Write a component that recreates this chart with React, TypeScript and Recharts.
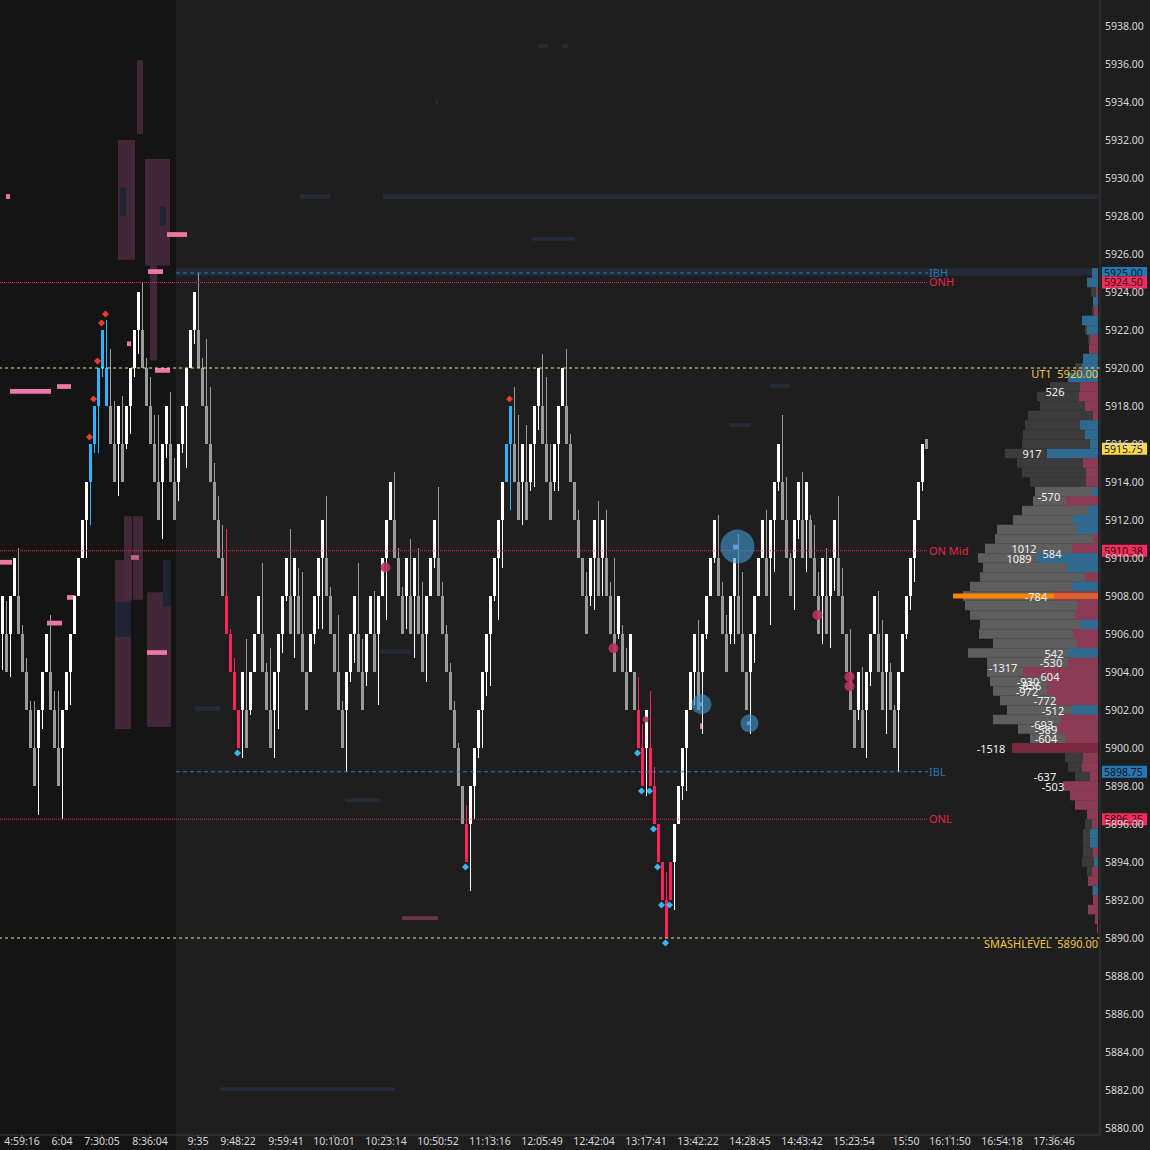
import React from 'react';
import { ComposedChart, Bar, Scatter, XAxis, YAxis, ReferenceLine, ReferenceArea, ReferenceDot } from 'recharts';

const FONT = "'Noto Sans', 'Open Sans', 'DejaVu Sans', sans-serif";
const BRICK = 2;
const SLOTS = 275;
const Y_MIN = 5879.632;
const Y_MAX = 5939.368;

// renko brick lows (2-pt bricks), colour codes and wick extremes
const brickLow = [
  5906,5904,5906,5908,5906,5904,5902,5900,5898,5900,
  5902,5904,5902,5900,5898,5900,5902,5904,5906,5908,
  5910,5912,5914,5916,5918,5920,5918,5916,5914,5916,
  5914,5916,5918,5920,5922,5920,5918,5916,5914,5912,
  5914,5916,5914,5912,5914,5916,5918,5920,5922,5920,
  5918,5916,5914,5912,5910,5908,5906,5904,5902,5900,
  5902,5900,5902,5904,5906,5904,5902,5900,5902,5904,
  5906,5908,5906,5908,5906,5904,5902,5904,5906,5908,
  5910,5908,5906,5904,5902,5900,5902,5904,5906,5904,
  5902,5904,5906,5904,5906,5908,5910,5912,5910,5908,
  5906,5908,5906,5908,5906,5904,5906,5908,5910,5908,
  5906,5904,5902,5900,5898,5896,5894,5896,5898,5900,
  5902,5904,5906,5908,5910,5912,5914,5916,5914,5912,
  5914,5912,5914,5916,5918,5916,5914,5912,5914,5916,
  5918,5916,5914,5912,5910,5908,5906,5908,5910,5908,
  5910,5908,5906,5904,5906,5904,5902,5904,5902,5900,
  5898,5900,5898,5896,5894,5892,5890,5892,5894,5896,
  5898,5900,5902,5904,5902,5904,5906,5908,5910,5908,
  5906,5904,5906,5908,5906,5904,5902,5904,5906,5908,
  5910,5908,5910,5912,5914,5912,5910,5908,5910,5912,
  5910,5912,5910,5908,5906,5908,5906,5908,5910,5908,
  5906,5904,5902,5900,5902,5900,5902,5904,5906,5904,
  5902,5904,5902,5900,5902,5904,5906,5908,5910,5912,5914,
];
const brickColor =
  'wgwwgggggw' + 'wwgggwwwww' + 'wwbbbbbggw' + 'gwwwwggggg' + 'wwggwwwwwg' +
  'ggggggrrrr' + 'wgwwwgggww' + 'wwgwgggwww' + 'wgggggwwwg' + 'gwwgwwwwgg' +
  'gwgwggwwwg' + 'ggggggrwww' + 'wwwwwwbbgg' + 'wgwwwgggww' + 'wggggggwwg' +
  'wgggwggwgr' + 'rwrrrrrrww' + 'wwwwgwwwwg' + 'ggwwgggwww' + 'wgwwwgggww' +
  'gwgggwgwwg' + 'ggggwgwwwg' + 'gwggwwwwwww';
const brickWick = [
  5904.1,5907.75,5903.75,null,5910.5,5906.5,5904.75,5902.5,5902.5,5896.5,
  5901,null,5907,5903,5903,5896.25,null,5902.25,null,5909.25,
  null,5910,5911.75,5915.5,5915.5,5919.5,5922.5,5921,5918.25,5913.25,
  5918.5,5915.75,5916.5,5919.5,5920.75,5924.5,5920.5,5919.5,5917.5,5917.5,
  5911,5915.25,5918.75,5915.25,5913,5915.5,5914.75,null,5921.25,5925,
  5920.5,5921.5,5919,5915,5913.25,5911.75,5911.5,5906.25,5904.75,null,
  5899.5,5905.75,5901.75,null,null,5909.75,5904.5,5905.25,5899.5,5901,
  5905,5907.75,5911.5,5904.75,5909.5,5909.25,null,null,5905.5,5906.25,
  5906.25,5913.25,5908.5,null,5907,5902.5,5898.75,5903.5,5904.5,5909.75,
  5905.75,5903.25,null,5908.25,5902.25,null,5906.75,null,5914.5,5910.5,
  5908.5,5906.25,5911,5904.75,5910.5,5908.75,5903.5,null,5909.5,5913.75,
  5908.75,5906.5,5904.5,5902.5,5900.25,null,5897,5892.5,5896.25,5899.5,
  5900,5902.75,5903.25,5907.75,5906.75,5909.5,null,5912.5,5919,5917.5,
  5911.75,5917,5913.5,5913.75,5916.75,5920.75,5919.5,5916,5913.5,5913.5,
  null,5921,5916.5,null,5912.5,null,5909.25,5907.5,5907.25,5913,
  5908,5912.5,5908.75,5910,5905.75,5906.5,5905.25,null,null,5903.75,
  5901.25,5897.5,5903,5899,null,null,5893.5,null,5891.5,5896,
  5897.25,5897.75,5902,5902.25,5906.75,5900.75,5905.75,null,5909.75,5912.25,
  5908.75,5907,5905.5,5905.5,5911.25,5909.25,null,5900.75,5904.5,null,
  null,5912.5,5906.5,5909.25,5913.5,5917.5,5914.25,5910.25,5907.25,5911,
  5914.5,5909.25,5912.25,5911.75,5909.25,5905.5,5910.5,5905.25,5908.25,5913.25,
  5909.5,null,5906.25,null,5901.5,5904.25,5899.5,5903.25,null,5908.25,
  5906.75,5900.75,5904.5,5902.25,5898.75,null,5905.75,5907.25,5908.75,5912,5913.5,
];
const formingLow = 5915.75;
const formingHigh = 5916.25;

const redMarkCols = [22, 23, 24, 25, 26, 127];
const redMarkPrices = [5916.37, 5918.37, 5920.37, 5922.37, 5922.84, 5918.37];
const blueMarkCols = [59, 116, 159, 160, 162, 163, 164, 165, 166, 167];
const blueMarkPrices = [5899.74, 5893.74, 5899.74, 5897.74, 5897.74, 5895.74, 5893.74, 5891.74, 5889.74, 5891.74];
const bubbleCols = [175, 184, 187];
const bubblePrices = [5902.3, 5910.6, 5901.3];
const bubbleSizes = [10, 17, 9];
const pinkCols = [96, 153, 161, 204, 212];
const pinkPrices = [5909.5, 5905.25, 5901.5, 5907.0, 5903.75];
const pinkSizes = [5, 5, 3, 5, 5];
const pink2Cols = [212];
const pink2Prices = [5903.25];

const timeTickCols = [5,15,25,37,49,59,71,83,96,109,122,135,148,161,174,187,200,213,226,237,250,263];
const timeTickLabels = ['4:59:16','6:04','7:30:05','8:36:04','9:35','9:48:22','9:59:41','10:10:01','10:23:14','10:50:52','11:13:16','12:05:49','12:42:04','13:17:41','13:42:22','14:28:45','14:43:42','15:23:54','15:50','16:11:50','16:54:18','17:36:46'];
const yTicks = [5880,5882,5884,5886,5888,5890,5892,5894,5896,5898,5900,5902,5904,5906,5908,5910,5912,5914,5916,5918,5920,5922,5924,5926,5928,5930,5932,5934,5936,5938];

// volume profile (0.5pt rows)
const profilePrices = [
  5925,5924.5,5924,5923.5,5923,5922.5,5922,5921.5,5921,5920.5,
  5920,5919.5,5919,5918.5,5918,5917.5,5917,5916.5,5916,5915.5,
  5915,5914.5,5914,5913.5,5913,5912.5,5912,5911.5,5911,5910.5,
  5910,5909.5,5909,5908.5,5908,5907.5,5907,5906.5,5906,5905.5,
  5905,5904.5,5904,5903.5,5903,5902.5,5902,5901.5,5901,5900.5,
  5900,5899.5,5899,5898.5,5898,5897.5,5897,5896.5,5896,5895.5,
  5895,5894.5,5894,5893.5,5893,5892.5,5892,5891.5,5891,5890.5,
];
const profileVolume = [
  6,11,7,5,6,16,13,10,9,15,
  23,30,48,61,58,70,73,75,76,93,
  81,76,68,63,65,76,85,101,103,113,
  120,115,118,128,135,133,128,118,119,105,
  130,111,111,108,105,98,91,105,80,68,
  86,33,30,23,35,26,11,11,13,15,
  15,15,16,11,10,6,5,10,3,1,
];
const profileDelta = [
  6,11,-2,5,-4,16,11,-8,-9,15,
  16,30,-18,-19,-13,-5,18,13,8,51,
  -15,-12,-12,6,-32,10,25,20,-5,-26,
  61,31,-13,26,-44,-21,-23,18,-25,-21,
  30,-30,-75,-51,-51,-43,26,-38,-40,-33,
  -86,-15,-16,-8,-35,-28,-23,-11,-6,8,
  8,-5,4,-6,-10,5,-5,-10,-3,-1,
];
const vaHigh = 5913.75;
const vaLow = 5900.25;
const pocPrice = 5908;
const pocVolume = 145;
const pocSellPart = 44;

const profileLabelText = ['526','917','-570','1012','1089','584','-784','542','-530','-1317','604','-930','-856','-972','-772','-512','-693','-589','-604','-1518','-637','-503'];
const profileLabelPrice = [5918.74,5915.47,5913.21,5910.47,5909.95,5910.21,5907.95,5904.95,5904.47,5904.21,5903.74,5903.47,5903.26,5902.95,5902.47,5901.95,5901.21,5900.95,5900.47,5899.95,5898.47,5897.95];
const profileLabelVol = [43,66,49,74,79,46,62,44,47,95,48,70,68,71,53,45,56,52,52,107,53,45];

// depth heatmap remnants: [col from, col to, price top, price bottom]
const heatPurple = [
  [34.25, 35.75, 5936.2, 5932.3],
  [29.5, 33.75, 5932.0, 5925.7],
  [36.25, 42.5, 5931.0, 5925.4],
  [37.5, 39.25, 5925.4, 5920.4],
  [28.75, 32.75, 5909.9, 5901.0],
  [31.0, 33.0, 5912.2, 5907.8],
  [33.25, 35.75, 5912.2, 5907.8],
  [36.75, 42.75, 5908.2, 5901.1],
];
const heatNavyCells = [
  [28.75, 32.75, 5907.7, 5905.85],
  [40.75, 42.75, 5909.9, 5907.45],
  [30.0, 31.5, 5929.5, 5928.0],
  [40.0, 41.5, 5928.5, 5927.5],
];
const heatPink = [
  [2.5, 12.75, 5918.9, 5918.65],
  [14.25, 17.75, 5919.15, 5918.9],
  [41.75, 46.75, 5927.15, 5926.9],
  [37, 40.75, 5925.2, 5924.95],
  [0, 3, 5909.9, 5909.65],
  [11.75, 15.5, 5906.7, 5906.45],
  [36.75, 41.75, 5905.15, 5904.9],
  [31.75, 32.75, 5921.4, 5921.15],
  [38.75, 42.5, 5920.0, 5919.75],
  [1.5, 2.5, 5929.15, 5928.9],
  [16.75, 18.75, 5908.05, 5907.8],
  [175.0, 175.75, 5901.3, 5901.0],
];
const heatMidPink = [[32.75, 34.75, 5910.15, 5909.9]];
const heatLavender = [
  [183.25, 184.75, 5910.7, 5910.45],
  [174.5, 175.5, 5902.4, 5902.2],
  [186.75, 187.75, 5901.4, 5901.2],
];
const heatDarkPink = [[100.5, 109.5, 5891.15, 5890.95]];
const heatNavy = [
  [95.75, 274.5, 5929.15, 5928.9],
  [75, 82.5, 5929.15, 5928.9],
  [133, 143.75, 5926.9, 5926.7],
  [134.5, 137, 5937.05, 5936.85],
  [140.5, 142, 5937.05, 5936.85],
  [55, 98.75, 5882.15, 5881.95],
  [44, 274.5, 5925.25, 5924.85],
  [48.75, 55, 5902.2, 5901.95],
  [95, 102.5, 5905.2, 5904.95],
  [182.5, 187.5, 5917.1, 5916.9],
  [192.5, 197.5, 5919.15, 5918.95],
  [86.25, 95, 5897.35, 5897.15],
  [109, 109.5, 5934.2, 5933.9],
];

const COLORS: Record<string, string> = { w: '#ffffff', g: '#9b9b9b', r: '#ff2457', b: '#2fb2ff' };

const rows: any[] = Array.from({ length: SLOTS }, (_, i) => {
  const r: any = { i };
  if (i < brickLow.length) {
    const lo = brickLow[i];
    const hi = lo + BRICK;
    const w = brickWick[i];
    r.lo = lo; r.hi = hi;
    r.wl = w == null ? lo : Math.min(lo, w);
    r.wh = w == null ? hi : Math.max(hi, w);
    r.c = brickColor[i];
  } else if (i === brickLow.length) {
    r.lo = formingLow; r.hi = formingHigh; r.wl = formingLow; r.wh = formingHigh; r.c = 'g';
  }
  return r;
});
redMarkCols.forEach((c, k) => { rows[c].red = redMarkPrices[k]; });
blueMarkCols.forEach((c, k) => { rows[c].blue = blueMarkPrices[k]; });
bubbleCols.forEach((c, k) => { rows[c].bub = bubblePrices[k]; rows[c].bubR = bubbleSizes[k]; });
pinkCols.forEach((c, k) => { rows[c].pink = pinkPrices[k]; rows[c].pinkR = pinkSizes[k]; });
pink2Cols.forEach((c, k) => { rows[c].pink2 = pink2Prices[k]; });

const tickLabelOf = (v: any) => {
  const k = timeTickCols.indexOf(Number(v));
  return k >= 0 ? timeTickLabels[k] : '';
};

const BrickShape = (props: any) => {
  const { x, y, height, payload } = props;
  if (!payload || payload.wl == null || height == null) return null;
  const top = height < 0 ? y + height : y;
  const h = Math.abs(height);
  const ppu = h / (payload.wh - payload.wl);
  const left = Math.floor(x);
  const bodyTop = top + (payload.wh - payload.hi) * ppu;
  const bodyH = (payload.hi - payload.lo) * ppu;
  const col = COLORS[payload.c] || '#9b9b9b';
  return (
    <g shapeRendering="crispEdges">
      <rect x={left + 1} y={top} width={1} height={h} fill={col} />
      <rect x={left} y={bodyTop} width={3} height={Math.max(bodyH, 1)} fill={col} />
    </g>
  );
};

const makeDiamond = (key: string, color: string) => (props: any) => {
  const { cx, cy, payload } = props;
  if (!payload || payload[key] == null || !isFinite(cy)) return null;
  const x = Math.floor(cx) - 0.5;
  const s = 3.5;
  return <polygon points={`${x},${cy - s} ${x + s},${cy} ${x},${cy + s} ${x - s},${cy}`} fill={color} />;
};

const makeCircle = (key: string, rKey: string | null, color: string, opacity: number, fixedR: number) => (props: any) => {
  const { cx, cy, payload } = props;
  if (!payload || payload[key] == null || !isFinite(cy)) return null;
  const r = rKey ? payload[rKey] : fixedR;
  return <circle cx={Math.floor(cx) - 0.5} cy={cy} r={r} fill={color} fillOpacity={opacity} />;
};

const tagLabel = (bg: string, text: string) => (props: any) => {
  const vb = props.viewBox || {};
  const yy = vb.y;
  const xx = (vb.x || 0) + (vb.width || 0) + 2;
  return (
    <g>
      <rect x={xx} y={yy - 6} width={45} height={12} fill={bg} />
      <text x={xx + 2} y={yy + 4} fontSize={10.5} fontFamily={FONT} fill="#111111">{text}</text>
    </g>
  );
};

const areaList = (list: number[][], fill: string, opacity: number, prefix: string) =>
  list.map((h, k) => (
    <ReferenceArea key={prefix + k} xAxisId="t" x1={h[0]} x2={h[1]} y1={h[3]} y2={h[2]} fill={fill} fillOpacity={opacity} stroke="none" ifOverflow="visible" />
  ));

export default function App() {
  return (
    <div style={{ width: 1150, height: 1150, background: 'linear-gradient(90deg, #141414 0px, #141414 176px, #1e1e1e 176px, #1e1e1e 100%)' }}>
      <style>{'body{margin:0;background:#1e1e1e}'}</style>
      <ComposedChart width={1150} height={1150} data={rows} margin={{ top: 0, right: 0, bottom: 0, left: 0 }} barCategoryGap={0} barGap={0}>
        <XAxis dataKey="i" type="category" ticks={timeTickCols} interval={0} tickFormatter={tickLabelOf} height={15}
          tickSize={3} tickMargin={0} axisLine={{ stroke: '#3a3a3a' }} tickLine={{ stroke: '#6a6a6a' }}
          tick={{ fill: '#d8d8d8', fontSize: 10.5, fontFamily: FONT }} />
        <XAxis xAxisId="t" dataKey="i" type="number" domain={[0, SLOTS]} hide allowDataOverflow />
        <XAxis xAxisId="vp" dataKey="i" type="number" domain={[-2, 1098]} reversed hide allowDataOverflow />
        <YAxis orientation="right" type="number" domain={[Y_MIN, Y_MAX]} allowDataOverflow ticks={yTicks} interval={0} width={50}
          tickSize={0} tickMargin={5} axisLine={{ stroke: '#3a3a3a' }} tickLine={false}
          tick={{ fill: '#d8d8d8', fontSize: 10.5, fontFamily: FONT }} tickFormatter={(v: number) => v.toFixed(2)} />

        {areaList(heatNavy, '#252a36', 1, 'n')}
        {areaList(heatPurple, '#4a2a3c', 0.85, 'p')}
        {areaList(heatNavyCells, '#1f2533', 1, 'nc')}
        {areaList(heatPink, '#ec77a6', 1, 'k')}
        {areaList(heatMidPink, '#c0608a', 1, 'mp')}
        {areaList(heatDarkPink, '#6a3347', 1, 'dp')}

        {profilePrices.map((p, k) => (
          <ReferenceArea key={'v' + k} xAxisId="vp" x1={0} x2={profileVolume[k]} y1={p - 0.25} y2={p + 0.25}
            fill={p >= vaLow && p <= vaHigh ? '#5e5e5e' : '#3b3b3b'} fillOpacity={1} stroke="none" ifOverflow="visible" />
        ))}
        {profilePrices.map((p, k) => (
          <ReferenceArea key={'dl' + k} xAxisId="vp" x1={0} x2={Math.abs(profileDelta[k])} y1={p - 0.25} y2={p + 0.25}
            fill={profileDelta[k] >= 0 ? '#2f6b90' : (p === vaLow - 0.25 ? '#7a2a40' : '#8c3b56')} fillOpacity={1} stroke="none" ifOverflow="visible" />
        ))}
        <ReferenceArea xAxisId="vp" x1={0} x2={pocVolume} y1={pocPrice - 0.13} y2={pocPrice + 0.13} fill="#ff8400" fillOpacity={1} stroke="none" ifOverflow="visible" />
        <ReferenceArea xAxisId="vp" x1={0} x2={pocSellPart} y1={pocPrice - 0.13} y2={pocPrice + 0.13} fill="#e2602f" fillOpacity={1} stroke="none" ifOverflow="visible" />

        <ReferenceLine xAxisId="t" segment={[{ x: 44, y: 5925 }, { x: 232, y: 5925 }]} stroke="#1f7fc0" strokeDasharray="4 3"
          label={{ value: 'IBH', position: 'right', offset: 1, fill: '#2478ac', fontSize: 11, fontFamily: FONT }} />
        <ReferenceLine xAxisId="t" segment={[{ x: 0, y: 5924.5 }, { x: 232, y: 5924.5 }]} stroke="#ff2050" strokeDasharray="1 1"
          label={{ value: 'ONH', position: 'right', offset: 1, fill: '#e8254f', fontSize: 11, fontFamily: FONT }} />
        <ReferenceLine y={5920} stroke="#ece08e" strokeDasharray="3 3"
          label={{ value: 'UT1\u00a0\u00a05920.00', position: 'insideTopRight', offset: 2, fill: '#f0c83c', fontSize: 11, fontFamily: FONT }} />
        <ReferenceLine xAxisId="t" segment={[{ x: 0, y: 5910.38 }, { x: 232, y: 5910.38 }]} stroke="#ff2050" strokeDasharray="1 1"
          label={{ value: 'ON Mid', position: 'right', offset: 1, fill: '#e8254f', fontSize: 11, fontFamily: FONT }} />
        <ReferenceLine xAxisId="t" segment={[{ x: 44, y: 5898.75 }, { x: 232, y: 5898.75 }]} stroke="#1f7fc0" strokeDasharray="4 3"
          label={{ value: 'IBL', position: 'right', offset: 1, fill: '#2478ac', fontSize: 11, fontFamily: FONT }} />
        <ReferenceLine xAxisId="t" segment={[{ x: 0, y: 5896.25 }, { x: 232, y: 5896.25 }]} stroke="#e8254f" strokeDasharray="1 1"
          label={{ value: 'ONL', position: 'right', offset: 1, fill: '#e8254f', fontSize: 11, fontFamily: FONT }} />
        <ReferenceLine y={5890} stroke="#ece08e" strokeDasharray="3 3"
          label={{ value: 'SMASHLEVEL\u00a0\u00a05890.00', position: 'insideTopRight', offset: 2, fill: '#f0c83c', fontSize: 11, fontFamily: FONT }} />

        <Bar dataKey={(d: any) => (d.wl == null ? null : [d.wl, d.wh])} barSize={3} shape={BrickShape} isAnimationActive={false} />

        <Scatter dataKey="bub" shape={makeCircle('bub', 'bubR', '#3d96d0', 0.62, 0)} isAnimationActive={false} />
        <Scatter dataKey="pink" shape={makeCircle('pink', 'pinkR', '#b8335e', 0.9, 0)} isAnimationActive={false} />
        <Scatter dataKey="pink2" shape={makeCircle('pink2', null, '#b8335e', 0.9, 5)} isAnimationActive={false} />
        <Scatter dataKey="red" shape={makeDiamond('red', '#f03b2b')} isAnimationActive={false} />
        <Scatter dataKey="blue" shape={makeDiamond('blue', '#3cb4f5')} isAnimationActive={false} />

        {areaList(heatLavender, '#a4a4e6', 1, 'lv')}

        {profileLabelText.map((t, k) => (
          <ReferenceDot key={'pl' + k} xAxisId="vp" x={profileLabelVol[k]} y={profileLabelPrice[k]} r={0} fill="none" stroke="none" ifOverflow="visible"
            label={{ value: t, position: 'center', fill: '#f2f2f2', fontSize: 11, fontFamily: FONT }} />
        ))}

        <ReferenceLine y={5925} stroke="none" ifOverflow="visible" label={tagLabel('#2379b5', '5925.00')} />
        <ReferenceLine y={5924.5} stroke="none" ifOverflow="visible" label={tagLabel('#ff2a5c', '5924.50')} />
        <ReferenceLine y={5915.75} stroke="none" ifOverflow="visible" label={tagLabel('#ffd84a', '5915.75')} />
        <ReferenceLine y={5910.38} stroke="none" ifOverflow="visible" label={tagLabel('#ff2a5c', '5910.38')} />
        <ReferenceLine y={5898.75} stroke="none" ifOverflow="visible" label={tagLabel('#2379b5', '5898.75')} />
        <ReferenceLine y={5896.25} stroke="none" ifOverflow="visible" label={tagLabel('#ff2a5c', '5896.25')} />
      </ComposedChart>
    </div>
  );
}
